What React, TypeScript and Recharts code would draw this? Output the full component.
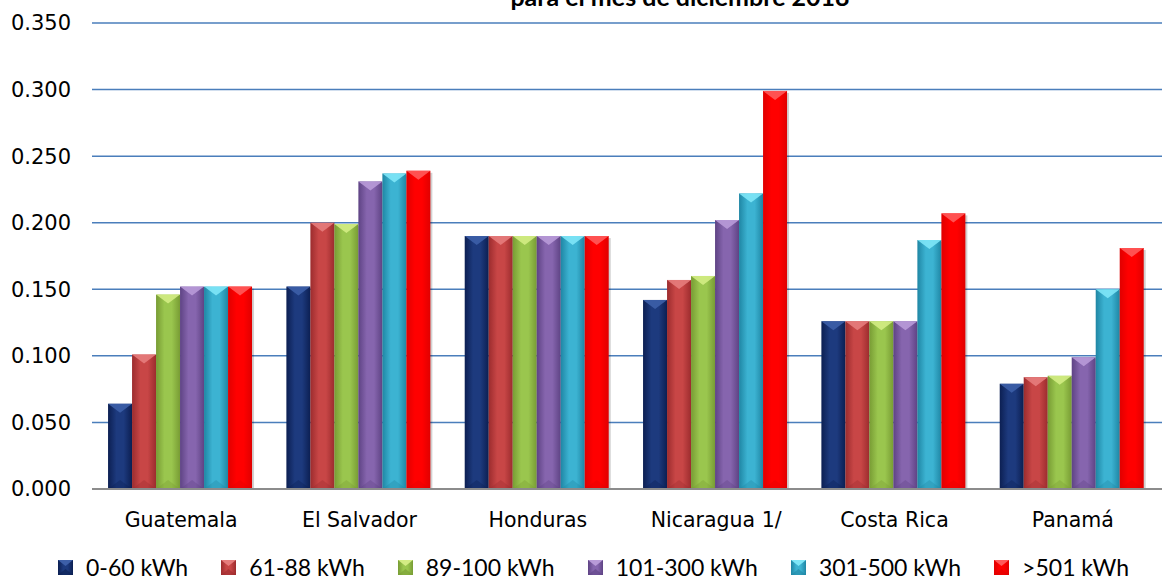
import React from "react";
import {
  BarChart,
  Bar,
  XAxis,
  YAxis,
  CartesianGrid,
} from "recharts";

// Precio por bloque de consumo (US$/kWh)
const countries = ["Guatemala", "El Salvador", "Honduras", "Nicaragua 1/", "Costa Rica", "Panamá"];
const block0to60 = [0.064, 0.152, 0.19, 0.142, 0.126, 0.079];
const block61to88 = [0.101, 0.2, 0.19, 0.157, 0.126, 0.084];
const block89to100 = [0.146, 0.199, 0.19, 0.16, 0.126, 0.085];
const block101to300 = [0.152, 0.231, 0.19, 0.202, 0.126, 0.099];
const block301to500 = [0.152, 0.237, 0.19, 0.222, 0.187, 0.15];
const blockOver501 = [0.152, 0.239, 0.19, 0.299, 0.207, 0.181];
const blockNames = ["0-60 kWh", "61-88 kWh", "89-100 kWh", "101-300 kWh", "301-500 kWh", ">501 kWh"];
const yTicks = [0, 0.05, 0.1, 0.15, 0.2, 0.25, 0.3, 0.35];

const blockValues = [block0to60, block61to88, block89to100, block101to300, block301to500, blockOver501];

const data = countries.map((name, i) => {
  const row: Record<string, string | number> = { name };
  blockNames.forEach((b, j) => {
    row[b] = blockValues[j][i];
  });
  return row;
});

// edge, center, bevel colours per series
const palette = [
  { edge: "#0c1f52", mid: "#1d3a7e", top: "#3d5fa8" },
  { edge: "#9c2c2e", mid: "#c84646", top: "#e57c7c" },
  { edge: "#789c34", mid: "#9ac64e", top: "#d3ec84" },
  { edge: "#5e4384", mid: "#8665ae", top: "#b89ad8" },
  { edge: "#1f86a4", mid: "#3cb3d2", top: "#7ee6f7" },
  { edge: "#e00000", mid: "#ff0000", top: "#ff5a5a" },
];

const makeShape = (idx: number) => (props: any) => {
  const { x, y, width, height } = props;
  if (!height || height <= 0) return <g />;
  const c = palette[idx];
  const bevel = Math.min(9, height / 2);
  return (
    <g>
      <rect x={x + 2} y={y + 2} width={width} height={height - 2} fill="rgba(0,0,0,0.18)" />
      <rect x={x} y={y} width={width} height={height} fill={`url(#grad${idx})`} />
      <polygon
        points={`${x},${y} ${x + width},${y} ${x + width / 2},${y + bevel}`}
        fill={c.top}
        opacity={0.9}
      />
      <polygon
        points={`${x},${y + height} ${x + width},${y + height} ${x + width / 2},${y + height - bevel}`}
        fill={c.edge}
        opacity={0.35}
      />
    </g>
  );
};

const BlockLegend = () => (
  <div
    style={{
      position: "absolute",
      left: 58,
      top: 553,
      display: "flex",
      alignItems: "center",
      fontFamily: "Lato, 'Open Sans', sans-serif",
      fontSize: 23,
      lineHeight: "28px",
      color: "#000",
    }}
  >
    {blockNames.map((b, i) => (
      <div key={b} style={{ display: "flex", alignItems: "center", marginRight: 33 }}>
        <svg width={15} height={15} style={{ marginRight: 13 }}>
          <rect x={0} y={0} width={15} height={15} fill={`url(#grad${i})`} />
          <polygon points="0,0 15,0 7.5,6" fill={palette[i].top} />
          <polygon points="0,15 15,15 7.5,9" fill={palette[i].edge} opacity={0.6} />
        </svg>
        <span>{b}</span>
      </div>
    ))}
  </div>
);

const App = () => {
  return (
    <div style={{ position: "absolute", left: 0, top: 0, width: 1165, height: 586, background: "#fff" }}>
      <svg width={0} height={0} style={{ position: "absolute" }}>
        <defs>
          {palette.map((c, i) => (
            <linearGradient key={i} id={`grad${i}`} x1="0" y1="0" x2="1" y2="0">
              <stop offset="0%" stopColor={c.edge} />
              <stop offset="35%" stopColor={c.mid} />
              <stop offset="65%" stopColor={c.mid} />
              <stop offset="100%" stopColor={c.edge} />
            </linearGradient>
          ))}
        </defs>
      </svg>
      <BarChart
        width={1165}
        height={586}
        data={data}
        margin={{ top: 23, right: 3, left: 0, bottom: 0 }}
        barCategoryGap="9%"
        barGap={0}
      >
        <CartesianGrid vertical={false} stroke="#4a7ebb" strokeWidth={1.5} />
        <XAxis
          dataKey="name"
          height={97}
          tickLine={false}
          tickSize={0}
          tickMargin={23}
          axisLine={{ stroke: "#8c8c8c", strokeWidth: 2 }}
          tick={{ fill: "#000", fontSize: 20.5, fontFamily: "'DejaVu Sans', Verdana, sans-serif" }}
        />
        <YAxis
          width={92}
          domain={[0, 0.35]}
          ticks={yTicks}
          interval={0}
          axisLine={false}
          tickLine={false}
          tickSize={0}
          tickMargin={21}
          tickFormatter={(v: number) => v.toFixed(3)}
          tick={{ fill: "#000", fontSize: 21, fontFamily: "'DejaVu Sans', Verdana, sans-serif" }}
        />
        {blockNames.map((b, i) => (
          <Bar key={b} dataKey={b} fill={palette[i].mid} shape={makeShape(i)} isAnimationActive={false} />
        ))}
      </BarChart>
      <BlockLegend />
      <svg
        width={1165}
        height={30}
        style={{ position: "absolute", left: 0, top: 0, pointerEvents: "none" }}
      >
        <text
          x={680}
          y={6}
          textAnchor="middle"
          fontFamily="Lato, 'Open Sans', sans-serif"
          fontWeight="bold"
          fontSize={25}
          fill="#000"
        >
          para el mes de diciembre 2018
        </text>
      </svg>
    </div>
  );
};

export default App;
